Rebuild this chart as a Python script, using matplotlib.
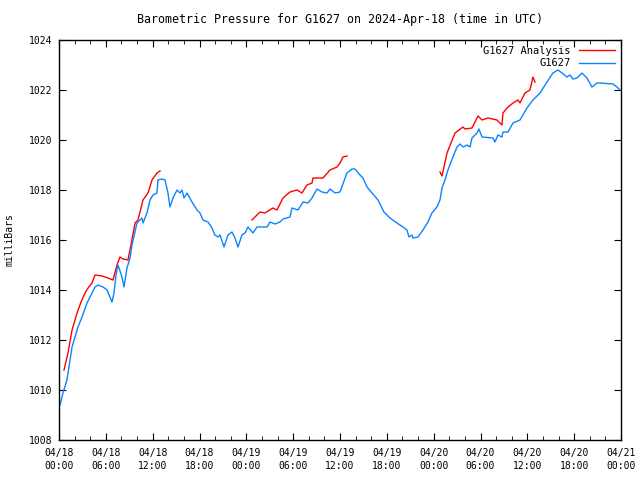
import matplotlib
matplotlib.use('Agg')
import matplotlib.pyplot as plt
from matplotlib.ticker import MultipleLocator

# hours since 2024-04-18 00:00 UTC, pressure in mb
obs_hours = [0.13, 0.51, 1.02, 1.41, 1.67, 2.05, 2.43, 2.95, 3.59, 4.23, 4.61, 5.00, 5.64, 6.15,
             6.53, 6.79, 7.05, 7.30, 7.56, 8.07, 8.33, 8.71, 9.10, 9.35, 9.99, 10.63, 10.76, 11.27,
             11.66, 12.04, 12.55, 12.68, 13.19, 13.58, 13.96, 14.22, 14.60, 15.12, 15.50, 15.76,
             16.01, 16.40, 17.04, 17.68, 18.06, 18.45, 19.09, 19.60, 19.98, 20.37, 20.63, 21.14,
             21.65, 22.16, 22.55, 22.93, 23.44, 23.83, 24.21, 24.85, 25.37, 26.65, 27.03, 27.67,
             28.31, 28.70, 29.59, 29.85, 30.62, 31.26, 31.90, 32.41, 33.05, 33.69, 34.33, 34.72,
             35.36, 36.00, 36.89, 37.54, 37.92, 38.56, 38.94, 39.46, 40.10, 40.87, 41.63, 42.40,
             43.30, 44.07, 44.58, 44.84, 45.22, 45.35, 45.99, 46.63, 47.27, 47.78, 48.42, 48.81,
             49.07, 49.45, 49.83, 50.47, 50.99, 51.37, 51.76, 52.27, 52.65, 52.91, 53.55, 53.80,
             54.19, 55.60, 55.85, 56.24, 56.75, 56.88, 57.52, 58.16, 59.06, 59.95, 60.72, 61.62,
             62.52, 63.28, 63.93, 64.44, 65.08, 65.46, 65.85, 66.36, 67.00, 67.64, 68.28, 68.92,
             69.31, 70.97, 71.49, 71.87]
obs_mb = [1009.40, 1009.88, 1010.40, 1011.20, 1011.72, 1012.12, 1012.52, 1012.92, 1013.48,
          1013.88, 1014.12, 1014.20, 1014.12, 1014.00, 1013.72, 1013.52, 1013.88, 1014.60,
          1015.00, 1014.52, 1014.12, 1014.88, 1015.28, 1015.80, 1016.68, 1016.88, 1016.68,
          1017.08, 1017.60, 1017.80, 1017.88, 1018.40, 1018.44, 1018.40, 1017.88, 1017.32,
          1017.68, 1018.00, 1017.88, 1018.00, 1017.68, 1017.88, 1017.52, 1017.20, 1017.08,
          1016.80, 1016.72, 1016.48, 1016.20, 1016.12, 1016.20, 1015.72, 1016.20, 1016.32,
          1016.08, 1015.72, 1016.20, 1016.28, 1016.52, 1016.28, 1016.52, 1016.52, 1016.72,
          1016.64, 1016.72, 1016.84, 1016.92, 1017.28, 1017.20, 1017.52, 1017.48, 1017.68,
          1018.04, 1017.92, 1017.88, 1018.04, 1017.88, 1017.92, 1018.68, 1018.84, 1018.84,
          1018.60, 1018.48, 1018.12, 1017.88, 1017.60, 1017.12, 1016.88, 1016.68, 1016.52,
          1016.40, 1016.12, 1016.20, 1016.08, 1016.12, 1016.40, 1016.72, 1017.08, 1017.32,
          1017.60, 1018.08, 1018.40, 1018.80, 1019.32, 1019.72, 1019.84, 1019.72, 1019.80,
          1019.72, 1020.08, 1020.28, 1020.44, 1020.12, 1020.08, 1019.92, 1020.20, 1020.12,
          1020.32, 1020.32, 1020.68, 1020.80, 1021.28, 1021.60, 1021.88, 1022.32, 1022.68,
          1022.80, 1022.68, 1022.52, 1022.60, 1022.44, 1022.48, 1022.68, 1022.48, 1022.12,
          1022.28, 1022.28, 1022.24, 1022.12, 1022.00]

# analysis comes in three separate runs
ana1_hours = [0.64, 1.15, 1.67, 2.31, 2.82, 3.33, 3.72, 4.23, 4.61, 5.51, 6.28, 6.92, 7.43, 7.81,
              8.20, 8.84, 9.22, 9.74, 10.12, 10.76, 11.40, 11.91, 12.55, 12.94]
ana1_mb = [1010.80, 1011.48, 1012.40, 1013.08, 1013.52, 1013.88, 1014.08, 1014.28, 1014.60,
           1014.56, 1014.48, 1014.40, 1015.00, 1015.32, 1015.24, 1015.20, 1015.80, 1016.68,
           1016.80, 1017.60, 1017.88, 1018.40, 1018.68, 1018.76]
ana2_hours = [24.72, 25.75, 26.39, 27.41, 27.93, 28.70, 29.59, 30.49, 31.13, 31.77, 32.41, 32.54,
              33.82, 34.72, 35.61, 36.00, 36.38, 36.89]
ana2_mb = [1016.80, 1017.12, 1017.08, 1017.28, 1017.20, 1017.68, 1017.92, 1018.00, 1017.88,
           1018.20, 1018.28, 1018.48, 1018.48, 1018.80, 1018.92, 1019.08, 1019.32, 1019.36]
ana3_hours = [48.81, 49.07, 49.71, 50.73, 51.76, 52.01, 52.91, 53.68, 54.19, 54.96, 56.11, 56.75,
              56.88, 57.39, 58.16, 58.80, 59.06, 59.70, 60.34, 60.72, 60.98]
ana3_mb = [1018.72, 1018.56, 1019.48, 1020.28, 1020.52, 1020.44, 1020.48, 1020.96, 1020.80,
           1020.88, 1020.80, 1020.60, 1021.08, 1021.28, 1021.48, 1021.60, 1021.48, 1021.88,
           1022.00, 1022.52, 1022.32]

xtick_labels = ['04/18\n00:00', '04/18\n06:00', '04/18\n12:00', '04/18\n18:00', '04/19\n00:00',
                '04/19\n06:00', '04/19\n12:00', '04/19\n18:00', '04/20\n00:00', '04/20\n06:00',
                '04/20\n12:00', '04/20\n18:00', '04/21\n00:00']

plt.rcParams['font.family'] = 'DejaVu Sans Mono'
plt.rcParams['font.size'] = 7

fig = plt.figure(figsize=(6.4, 4.8), dpi=100)
ax = fig.add_axes([59/640, 40/480, 562/640, 400/480])

red = '#ff0000'
blue = '#0a84ff'
ax.plot(ana1_hours, ana1_mb, color=red, lw=1, label='G1627 Analysis')
ax.plot(ana2_hours, ana2_mb, color=red, lw=1)
ax.plot(ana3_hours, ana3_mb, color=red, lw=1)
ax.plot(obs_hours, obs_mb, color=blue, lw=1, label='G1627')

ax.set_xlim(0, 72)
ax.set_ylim(1008, 1024)
ax.set_xticks(range(0, 73, 6))
ax.set_xticklabels(xtick_labels, linespacing=1.35)
ax.xaxis.set_minor_locator(MultipleLocator(2))
ax.yaxis.set_major_locator(MultipleLocator(2))
ax.tick_params(which='both', direction='in', top=True, right=True, colors='black')
ax.tick_params(axis='x', pad=6)
ax.tick_params(axis='y', pad=5)
ax.tick_params(which='major', length=5)
ax.tick_params(which='minor', length=3)
for s in ax.spines.values():
    s.set_linewidth(1)

ax.set_ylabel('milliBars', labelpad=10)
ax.set_title('Barometric Pressure for G1627 on 2024-Apr-18 (time in UTC)', pad=12)
ax.legend(loc='upper right', frameon=False, markerfirst=False, handlelength=3.5,
          borderaxespad=0.15, labelspacing=0.25, handletextpad=0.8, fontsize=7.5)

fig.savefig('out.png', dpi=100)
